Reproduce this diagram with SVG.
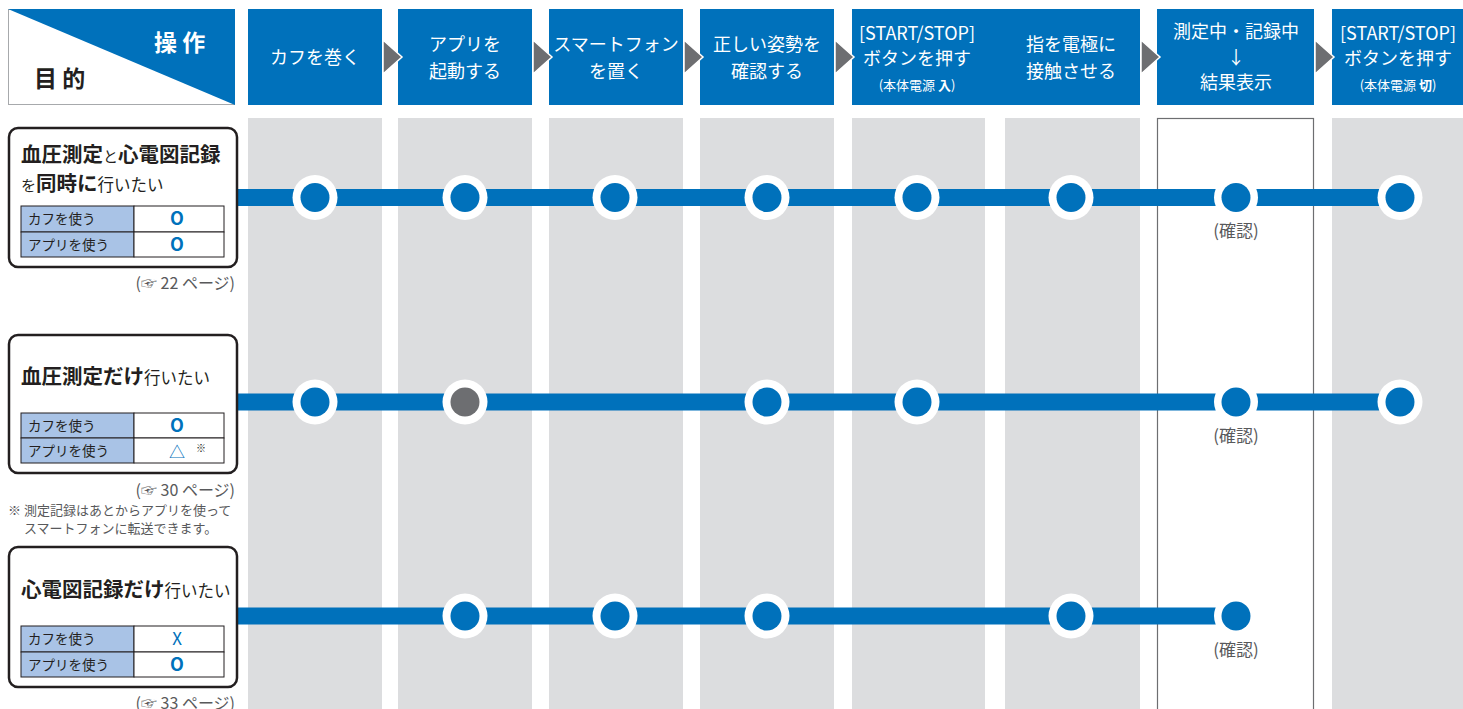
<svg xmlns="http://www.w3.org/2000/svg" width="1463" height="709" viewBox="0 0 1463 709">
<style>
text{font-family:"Noto Sans CJK JP","Noto Sans",sans-serif}
.hb{fill:#0071bb}
.ht{fill:#fff;font-size:18px;text-anchor:middle}
.hs{fill:#fff;font-size:13px;text-anchor:middle}
.col{fill:#dcdddf}
.arr{fill:#6d6e71;stroke:#fff;stroke-width:1.5}
.box{fill:#fff;stroke:#231f20;stroke-width:2.5}
.tl{fill:#a9c3e6;stroke:#231f20;stroke-width:1}
.tr{fill:#fff;stroke:#231f20;stroke-width:1}
.tt{font-size:13.5px;fill:#231f20}
.mk{font-size:18px;font-weight:600;fill:#0071bb;text-anchor:middle}
.mx{font-size:17px;fill:#0071bb;text-anchor:middle}
.b{font-weight:bold;font-size:20.5px;fill:#231f20}
.s{font-size:15px;fill:#231f20}
.n{font-size:16.5px;fill:#231f20}
.ref{font-size:16px;fill:#58595b;text-anchor:end}
.note{font-size:13px;fill:#58595b}
.line{stroke:#0071bb;stroke-width:17;fill:none}
.ring{fill:#fff}
.dot{fill:#0071bb}
.gdot{fill:#6d6e71}
.conf{font-size:17px;fill:#58595b;text-anchor:middle}
</style>
<rect x="0" y="0" width="1463" height="709" fill="#fff"/>
<g id="columns">
<rect class="col" x="248" y="118" width="134" height="591"/>
<rect class="col" x="398" y="118" width="134" height="591"/>
<rect class="col" x="549" y="118" width="134" height="591"/>
<rect class="col" x="700" y="118" width="134" height="591"/>
<rect class="col" x="852" y="118" width="133" height="591"/>
<rect class="col" x="1005" y="118" width="135" height="591"/>
<rect x="1157.5" y="118.5" width="156" height="592" fill="#fff" stroke="#6d6e71" stroke-width="1.2"/>
<rect class="col" x="1332" y="118" width="131" height="591"/>
</g>
<g id="corner">
<rect x="8.5" y="9.5" width="226" height="95" fill="#fff" stroke="#a7a9ac" stroke-width="1"/>
<polygon points="8,9 235,9 235,105" fill="#0071bb"/>
<text x="154" y="51" font-size="23" font-weight="bold" fill="#fff">操 作</text>
<text x="34" y="87" font-size="23" font-weight="bold" fill="#231f20">目 的</text>
</g>
<g id="step1"><rect class="hb" x="248" y="9" width="134" height="96"/><text class="ht" x="315" y="64">カフを巻く</text></g>
<g id="step2"><rect class="hb" x="398" y="9" width="134" height="96"/><text class="ht" x="465" y="51">アプリを</text><text class="ht" x="465" y="78">起動する</text></g>
<g id="step3"><rect class="hb" x="549" y="9" width="134" height="96"/><text class="ht" x="616" y="51">スマートフォン</text><text class="ht" x="616" y="78">を置く</text></g>
<g id="step4"><rect class="hb" x="700" y="9" width="134" height="96"/><text class="ht" x="767" y="51">正しい姿勢を</text><text class="ht" x="767" y="78">確認する</text></g>
<g id="step5"><rect class="hb" x="852" y="9" width="288" height="96"/>
<text class="ht" x="917" y="40">[START/STOP]</text><text class="ht" x="917" y="65">ボタンを押す</text><text class="hs" x="917" y="90">(本体電源 <tspan font-weight="bold">入</tspan>)</text>
<text class="ht" x="1071" y="51">指を電極に</text><text class="ht" x="1071" y="78">接触させる</text></g>
<g id="step6"><rect class="hb" x="1157" y="9" width="157" height="96"/><text class="ht" x="1236" y="38">測定中・記録中</text><text class="ht" x="1236" y="64">↓</text><text class="ht" x="1236" y="89">結果表示</text></g>
<g id="step7"><rect class="hb" x="1332" y="9" width="131" height="96"/><text class="ht" x="1398" y="40">[START/STOP]</text><text class="ht" x="1398" y="65">ボタンを押す</text><text class="hs" x="1398" y="90">(本体電源 <tspan font-weight="bold">切</tspan>)</text></g>
<g id="arrows">
<polygon class="arr" points="383,40 402,57 383,74"/>
<polygon class="arr" points="533,40 552,57 533,74"/>
<polygon class="arr" points="684,40 703,57 684,74"/>
<polygon class="arr" points="835,40 854,57 835,74"/>
<polygon class="arr" points="1141,40 1160,57 1141,74"/>
<polygon class="arr" points="1315,40 1334,57 1315,74"/>
</g>
<g id="connectors">
<line class="line" x1="236" y1="197.5" x2="1401" y2="197.5"/>
<line class="line" x1="236" y1="402" x2="1401" y2="402"/>
<line class="line" x1="236" y1="616" x2="1236" y2="616"/>
</g>
<g id="purpose1">
<rect class="box" x="9" y="128" width="228" height="139" rx="9"/>
<text x="21" y="162"><tspan class="b">血圧測定</tspan><tspan class="s">と</tspan><tspan class="b">心電図記録</tspan></text>
<text x="21" y="191"><tspan class="s">を</tspan><tspan class="b">同時に</tspan><tspan class="n">行いたい</tspan></text>
<rect class="tl" x="21" y="206" width="113" height="26"/><rect class="tr" x="134" y="206" width="90" height="26"/>
<rect class="tl" x="21" y="232" width="113" height="25"/><rect class="tr" x="134" y="232" width="90" height="25"/>
<text class="tt" x="28" y="224">カフを使う</text><text class="mk" x="177" y="225">O</text>
<text class="tt" x="28" y="250">アプリを使う</text><text class="mk" x="177" y="251">O</text>
<text class="ref" x="235" y="289">(☞ 22 ページ)</text>
</g>
<g id="purpose2">
<rect class="box" x="9" y="335" width="228" height="138" rx="9"/>
<text x="21" y="384"><tspan class="b">血圧測定だけ</tspan><tspan class="n">行いたい</tspan></text>
<rect class="tl" x="21" y="413" width="113" height="25"/><rect class="tr" x="134" y="413" width="90" height="25"/>
<rect class="tl" x="21" y="438" width="113" height="25"/><rect class="tr" x="134" y="438" width="90" height="25"/>
<text class="tt" x="28" y="431">カフを使う</text><text class="mk" x="177" y="432">O</text>
<text class="tt" x="28" y="456">アプリを使う</text><text x="177" y="458" font-size="16" fill="#0071bb" text-anchor="middle">△</text>
<text x="196" y="452" font-size="10" fill="#231f20">※</text>
<text class="ref" x="235" y="496">(☞ 30 ページ)</text>
<text class="note" x="8" y="515">※ 測定記録はあとからアプリを使って</text>
<text class="note" x="24" y="533">スマートフォンに転送できます。</text>
</g>
<g id="purpose3">
<rect class="box" x="9" y="547" width="228" height="140" rx="9"/>
<text x="21" y="597"><tspan class="b">心電図記録だけ</tspan><tspan class="n">行いたい</tspan></text>
<rect class="tl" x="21" y="626" width="113" height="26"/><rect class="tr" x="134" y="626" width="90" height="26"/>
<rect class="tl" x="21" y="652" width="113" height="25"/><rect class="tr" x="134" y="652" width="90" height="25"/>
<text class="tt" x="28" y="644">カフを使う</text><text class="mx" x="177" y="645">X</text>
<text class="tt" x="28" y="670">アプリを使う</text><text class="mk" x="177" y="671">O</text>
<text class="ref" x="235" y="709">(☞ 33 ページ)</text>
</g>
<g id="r1n1"><circle class="ring" cx="315" cy="197.5" r="22.5"/><circle class="dot" cx="315" cy="197.5" r="14.5"/></g>
<g id="r1n2"><circle class="ring" cx="465" cy="197.5" r="22.5"/><circle class="dot" cx="465" cy="197.5" r="14.5"/></g>
<g id="r1n3"><circle class="ring" cx="615" cy="197.5" r="22.5"/><circle class="dot" cx="615" cy="197.5" r="14.5"/></g>
<g id="r1n4"><circle class="ring" cx="767" cy="197.5" r="22.5"/><circle class="dot" cx="767" cy="197.5" r="14.5"/></g>
<g id="r1n5"><circle class="ring" cx="917" cy="197.5" r="22.5"/><circle class="dot" cx="917" cy="197.5" r="14.5"/></g>
<g id="r1n6"><circle class="ring" cx="1071" cy="197.5" r="22.5"/><circle class="dot" cx="1071" cy="197.5" r="14.5"/></g>
<g id="r1n7"><circle class="ring" cx="1236" cy="197.5" r="22"/><circle class="dot" cx="1236" cy="197.5" r="14.5"/><text class="conf" x="1236" y="237">(確認)</text></g>
<g id="r1n8"><circle class="ring" cx="1400" cy="197.5" r="22.5"/><circle class="dot" cx="1400" cy="197.5" r="14.5"/></g>
<g id="r2n1"><circle class="ring" cx="315" cy="402" r="22.5"/><circle class="dot" cx="315" cy="402" r="14.5"/></g>
<g id="r2n2"><circle class="ring" cx="465" cy="402" r="22.5"/><circle class="gdot" cx="465" cy="402" r="14.5"/></g>
<g id="r2n4"><circle class="ring" cx="767" cy="402" r="22.5"/><circle class="dot" cx="767" cy="402" r="14.5"/></g>
<g id="r2n5"><circle class="ring" cx="917" cy="402" r="22.5"/><circle class="dot" cx="917" cy="402" r="14.5"/></g>
<g id="r2n7"><circle class="ring" cx="1236" cy="402" r="22"/><circle class="dot" cx="1236" cy="402" r="14.5"/><text class="conf" x="1236" y="442">(確認)</text></g>
<g id="r2n8"><circle class="ring" cx="1400" cy="402" r="22.5"/><circle class="dot" cx="1400" cy="402" r="14.5"/></g>
<g id="r3n2"><circle class="ring" cx="465" cy="616" r="22.5"/><circle class="dot" cx="465" cy="616" r="14.5"/></g>
<g id="r3n3"><circle class="ring" cx="615" cy="616" r="22.5"/><circle class="dot" cx="615" cy="616" r="14.5"/></g>
<g id="r3n4"><circle class="ring" cx="767" cy="616" r="22.5"/><circle class="dot" cx="767" cy="616" r="14.5"/></g>
<g id="r3n6"><circle class="ring" cx="1071" cy="616" r="22.5"/><circle class="dot" cx="1071" cy="616" r="14.5"/></g>
<g id="r3n7"><circle class="ring" cx="1236" cy="616" r="22"/><circle class="dot" cx="1236" cy="616" r="14.5"/><text class="conf" x="1236" y="656">(確認)</text></g>
</svg>
